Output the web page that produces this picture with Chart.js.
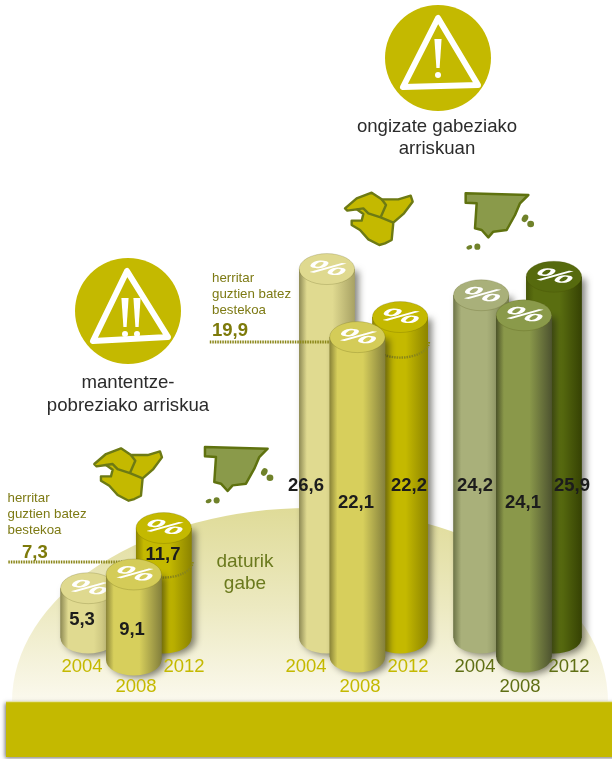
<!DOCTYPE html>
<html>
<head>
<meta charset="utf-8">
<style>
  html, body { margin: 0; background: #fff; }
  canvas { display: block; }
</style>
<script src="https://cdn.jsdelivr.net/npm/chart.js@4/dist/chart.umd.js"></script>
</head>
<body>
<canvas id="myChart" width="612" height="759"></canvas>
<script>
const years = ['2004', '2008', '2012'];
const mantentze = [5.3, 9.1, 11.7];
const ongizateEuskadi = [26.6, 22.1, 22.2];
const ongizateEspainia = [24.2, 24.1, 25.9];
const averages = [7.3, 19.9];

// layout, x in cylinder diameters along the x axis
const W = 612, H = 759, D = 55.5, RY = 15.5;
const seats = [[1.59, 2.41, 2.95], [5.89, 6.44, 7.21], [8.67, 9.44, 9.98]];
const valueLabelPos = [
  [[82, 620], [132, 630], [163, 555]],
  [[306, 486], [356, 503], [409, 486]],
  [[475, 486], [523, 503], [572, 486]]
];
const yearLabelPos = [
  [[82, 667], [136, 687], [184, 667]],
  [[306, 667], [360, 687], [408, 667]],
  [[475, 667], [520, 687], [569, 667]]
];
const yearColors = ['#c4b900', '#c4b900', '#5f6f14'];
// edge left, face, edge right, top
const palette = [
  [['#8f8b55', '#e0da90', '#b0aa6a', '#dfd98f'], ['#8a8438', '#d7cf5c', '#84803c', '#d4cc58'], ['#8c8400', '#c4b900', '#8c8400', '#c4b900']],
  [['#8f8b55', '#e0da90', '#a8a264', '#dfd98f'], ['#8a8438', '#d7cf5c', '#84803c', '#d4cc58'], ['#8c8400', '#c4b900', '#8c8400', '#c4b900']],
  [['#6e7548', '#a9b07a', '#777e50', '#a9b07a'], ['#4c5328', '#8a984a', '#4e5430', '#8a9a4a'], ['#465608', '#5a6e10', '#364204', '#566a0e']]
];

function yAxis(zeroPx, pxPerUnit) {
  return { display: false, min: -(H - zeroPx) / pxPerUnit, max: zeroPx / pxPerUnit };
}

function bodyGradient(c, x, w, cols) {
  const g = c.createLinearGradient(x - w / 2, 0, x + w / 2, 0);
  g.addColorStop(0, cols[0]);
  g.addColorStop(0.14, cols[1]);
  g.addColorStop(0.6, cols[1]);
  g.addColorStop(1, cols[2]);
  return g;
}

const datasets = [];
const groups = [mantentze, ongizateEuskadi, ongizateEspainia];
const drawOrder = [5, 3, 6]; // 2008 stands in front, 2012 at the back
groups.forEach(function (values, g) {
  values.forEach(function (v, i) {
    const front = i === 1;
    const left = g === 0;
    datasets.push({
      type: 'bar',
      label: years[i],
      data: [{ x: seats[g][i], y: v }],
      yAxisID: (left ? 'yLeft' : 'yRight') + (front ? 'Front' : 'Back'),
      base: left ? 0 : -7.25,
      order: drawOrder[i],
      grouped: false,
      barPercentage: 3,
      categoryPercentage: 1,
      maxBarThickness: D,
      borderWidth: 0,
      group: g,
      year: i,
      backgroundColor: function (ctx) {
        const px = ctx.chart.scales.x ? ctx.chart.scales.x.getPixelForValue(seats[g][i]) : NaN;
        if (!isFinite(px)) return palette[g][i][1];
        return bodyGradient(ctx.chart.ctx, px, D, palette[g][i]);
      }
    });
  });
});

// the two dotted "bestekoa" lines
datasets.push({
  type: 'line', label: 'bestekoa', yAxisID: 'yLeftAvg', order: 4,
  data: [{ x: 0.15, y: averages[0] }, { x: 2.2, y: averages[0] }],
  borderColor: '#8a8618', borderWidth: 3, borderDash: [1.5, 1], pointRadius: 0
});
datasets.push({
  type: 'line', label: 'bestekoa', yAxisID: 'yRightBack', order: 4,
  data: [{ x: 3.78, y: averages[1] }, { x: 6.0, y: averages[1] }],
  borderColor: '#8a8618', borderWidth: 3, borderDash: [1.5, 1], pointRadius: 0
});

function poly(c, pts, dx, dy, close) {
  c.beginPath();
  pts.forEach(function (p, i) {
    const x = 200 + p[0] / 3 + dx, y = 180 + p[1] / 3 + dy;
    if (i === 0) c.moveTo(x, y); else c.lineTo(x, y);
  });
  if (close) c.closePath();
}

const basqueOutline = [[435, 85], [470, 55], [515, 38], [545, 58], [595, 58], [632, 47], [638, 65], [612, 100], [580, 128], [575, 180], [555, 190], [538, 195], [505, 178], [480, 150], [455, 135], [455, 122], [485, 122], [490, 102], [470, 88], [442, 92]];
const basqueInner1 = [[470, 88], [490, 85], [505, 100], [542, 112], [580, 128]];
const basqueInner2 = [[545, 58], [558, 75], [542, 112]];
const spainOutline = [[797, 40], [985, 45], [960, 70], [945, 105], [920, 150], [880, 155], [865, 172], [845, 150], [825, 145], [830, 70], [797, 68]];

function drawBasque(c, dx, dy) {
  c.lineJoin = 'round';
  c.fillStyle = '#c4b900';
  c.strokeStyle = '#6d7a14';
  c.lineWidth = 2.4;
  poly(c, basqueOutline, dx, dy, true);
  c.fill();
  c.stroke();
  poly(c, basqueInner1, dx, dy, false);
  c.stroke();
  poly(c, basqueInner2, dx, dy, false);
  c.stroke();
}

function drawSpain(c, dx, dy) {
  c.lineJoin = 'round';
  c.fillStyle = '#8a9a4a';
  c.strokeStyle = '#5f720f';
  c.lineWidth = 2.5;
  poly(c, spainOutline, dx, dy, true);
  c.fill();
  c.stroke();
  c.fillStyle = '#70822a';
  [[975, 115, 3, 4, 0.5], [992, 132, 3.4, 3.2, 0], [808, 202, 3, 2, -0.4], [832, 200, 3, 3.2, 0]].forEach(function (e) {
    c.beginPath();
    c.ellipse(200 + e[0] / 3 + dx, 180 + e[1] / 3 + dy, e[2], e[3], e[4], 0, Math.PI * 2);
    c.fill();
  });
}

function drawWarning(c, cx, cy, tri, marks) {
  c.fillStyle = '#c4b900';
  c.beginPath();
  c.arc(cx, cy, 53, 0, Math.PI * 2);
  c.fill();
  c.strokeStyle = '#fff';
  c.lineWidth = 6;
  c.lineJoin = 'round';
  c.beginPath();
  c.moveTo(tri[0][0], tri[0][1]);
  c.lineTo(tri[1][0], tri[1][1]);
  c.lineTo(tri[2][0], tri[2][1]);
  c.closePath();
  c.stroke();
  c.fillStyle = '#fff';
  marks.forEach(function (m) {
    c.beginPath();
    c.moveTo(m[0] - 3.6, m[1]);
    c.lineTo(m[0] + 3.6, m[1]);
    c.lineTo(m[0] + 1.6, m[1] + 29);
    c.lineTo(m[0] - 1.6, m[1] + 29);
    c.closePath();
    c.fill();
    c.beginPath();
    c.arc(m[0], m[1] + 36, 3, 0, Math.PI * 2);
    c.fill();
  });
}

function label(c, txt, x, y, font, color, align) {
  c.font = font;
  c.fillStyle = color;
  c.textAlign = align || 'center';
  c.textBaseline = 'middle';
  c.fillText(txt, x, y);
}

const FONT = '"Liberation Sans", Arial, sans-serif';

const scenery = {
  id: 'scenery',
  beforeDatasetsDraw: function (chart) {
    const c = chart.ctx;
    c.save();
    // dome
    const dome = c.createLinearGradient(0, 508, 0, 702);
    dome.addColorStop(0, '#dfdb98');
    dome.addColorStop(0.5, '#ece9c0');
    dome.addColorStop(1, '#fbf9ee');
    c.fillStyle = dome;
    c.beginPath();
    c.ellipse(310, 702, 298, 194, 0, Math.PI, 2 * Math.PI);
    c.closePath();
    c.fill();
    // band
    c.save();
    c.shadowColor = 'rgba(0,0,0,0.55)';
    c.shadowBlur = 4;
    c.shadowOffsetX = -1;
    c.shadowOffsetY = 1;
    c.fillStyle = '#c4b900';
    c.fillRect(6, 702, 620, 55);
    c.restore();
    c.fillStyle = '#e6e3a8';
    c.fillRect(6, 701, 606, 1.2);

    drawWarning(c, 438, 58, [[438, 18], [403, 87], [478, 85]], [[438, 39]]);
    drawWarning(c, 128, 311, [[127, 271], [93, 341], [168, 337]], [[125, 298], [137, 298]]);

    label(c, 'ongizate gabeziako', 437, 127, '18.6px ' + FONT, '#2b2b2b');
    label(c, 'arriskuan', 437, 149, '18.6px ' + FONT, '#2b2b2b');
    label(c, 'mantentze-', 128, 383, '18.6px ' + FONT, '#2b2b2b');
    label(c, 'pobreziako arriskua', 128, 406, '18.6px ' + FONT, '#2b2b2b');

    drawBasque(c, 0, 0);
    drawSpain(c, 0, 0);
    drawBasque(c, -250.7, 255.7);
    drawSpain(c, -260.7, 253.7);

    ['herritar', 'guztien batez', 'bestekoa'].forEach(function (t, i) {
      label(c, t, 7.5, 498 + i * 16, '13.3px ' + FONT, '#7d7a14', 'left');
      label(c, t, 212, 278 + i * 16, '13.3px ' + FONT, '#7d7a14', 'left');
    });
    label(c, averages[0].toString().replace('.', ','), 22, 553, 'bold 18.5px ' + FONT, '#7d7a0a', 'left');
    label(c, averages[1].toString().replace('.', ','), 212, 331, 'bold 18.5px ' + FONT, '#7d7a0a', 'left');

    label(c, 'daturik', 245, 562, '19px ' + FONT, '#6b7a1e');
    label(c, 'gabe', 245, 584, '19px ' + FONT, '#6b7a1e');
    c.restore();
  },
  beforeDatasetDraw: function (chart, args) {
    if (args.meta.type !== 'bar') return;
    const ds = chart.data.datasets[args.index];
    const bar = args.meta.data[0];
    const c = chart.ctx;
    c.save();
    // silhouette with the drop shadow, the bottom curve stays visible
    c.shadowColor = 'rgba(30,30,20,0.55)';
    c.shadowBlur = 7;
    c.shadowOffsetX = 4;
    c.shadowOffsetY = 2;
    c.fillStyle = bodyGradient(c, bar.x, bar.width, palette[ds.group][ds.year]);
    c.beginPath();
    c.moveTo(bar.x - bar.width / 2, bar.y);
    c.lineTo(bar.x + bar.width / 2, bar.y);
    c.lineTo(bar.x + bar.width / 2, bar.base);
    c.ellipse(bar.x, bar.base, bar.width / 2, RY, 0, 0, Math.PI);
    c.closePath();
    c.fill();
    c.restore();
  },
  afterDatasetDraw: function (chart, args) {
    if (args.meta.type !== 'bar') return;
    const ds = chart.data.datasets[args.index];
    const bar = args.meta.data[0];
    const c = chart.ctx;
    c.save();
    // ring of the average line around the 2012 cylinders
    if (ds.year === 2 && ds.group < 2) {
      const scale = chart.scales[ds.group === 0 ? 'yLeftAvg' : 'yRightBack'];
      const ringY = scale.getPixelForValue(averages[ds.group]);
      c.strokeStyle = '#8a8618';
      c.lineWidth = 2.4;
      c.setLineDash([1.5, 1]);
      c.beginPath();
      c.ellipse(bar.x, ringY, bar.width / 2 + 1, RY, 0, 0, Math.PI);
      c.stroke();
      c.setLineDash([]);
    }
    // top of the cylinder
    c.fillStyle = palette[ds.group][ds.year][3];
    c.strokeStyle = 'rgba(60,60,0,0.18)';
    c.lineWidth = 1;
    c.beginPath();
    c.ellipse(bar.x, bar.y, bar.width / 2, RY, 0, 0, Math.PI * 2);
    c.fill();
    c.stroke();
    // the % lies flat on the disc
    c.translate(bar.x, bar.y);
    c.transform(1.65, 0.19, -0.67, 0.615, 0, 0);
    label(c, '%', 0, 0, 'bold 27px ' + FONT, '#fff');
    c.restore();
  },
  afterDatasetsDraw: function (chart) {
    const c = chart.ctx;
    c.save();
    groups.forEach(function (values, g) {
      values.forEach(function (v, i) {
        const p = valueLabelPos[g][i];
        label(c, v.toFixed(1).replace('.', ','), p[0], p[1], 'bold 18.5px ' + FONT, '#1c1c1c');
        const q = yearLabelPos[g][i];
        label(c, years[i], q[0], q[1], '18.5px ' + FONT, yearColors[g]);
      });
    });
    c.restore();
  }
};

new Chart(document.getElementById('myChart'), {
  data: { datasets: datasets },
  plugins: [scenery],
  options: {
    responsive: false,
    animation: false,
    layout: { padding: 0 },
    plugins: { legend: { display: false }, tooltip: { enabled: false } },
    events: [],
    scales: {
      x: { type: 'linear', display: false, offset: false, min: 0, max: W / D },
      yLeftBack: yAxis(638, 9.4),
      yLeftFront: yAxis(660, 9.4),
      yLeftAvg: yAxis(630.6, 9.4),
      yRightBack: yAxis(559, 10.9),
      yRightFront: yAxis(578, 10.9)
    }
  }
});
</script>
</body>
</html>
